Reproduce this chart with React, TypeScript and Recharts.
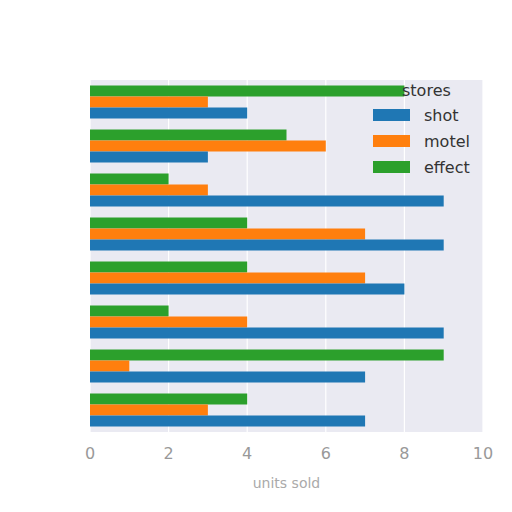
import React from 'react';
import { BarChart, Bar, XAxis, YAxis, CartesianGrid } from 'recharts';

// categories top to bottom (no labels shown on the axis)
const categories = ['c1', 'c2', 'c3', 'c4', 'c5', 'c6', 'c7', 'c8'];
const shot = [4, 3, 9, 9, 8, 9, 7, 7];
const motel = [3, 6, 3, 7, 7, 4, 1, 3];
const effect = [8, 5, 2, 4, 4, 2, 9, 4];
const xTicks = [0, 2, 4, 6, 8, 10];

const series = [
  { key: 'shot', color: '#1f77b4' },
  { key: 'motel', color: '#ff7f0e' },
  { key: 'effect', color: '#2ca02c' },
];

const data = categories.map((c, i) => ({
  name: c,
  shot: shot[i],
  motel: motel[i],
  effect: effect[i],
}));

const font = '"DejaVu Sans", sans-serif';

// legend sits inside the plot, top right, drawn over the bars
const StoresLegend = () => (
  <div style={{ position: 'absolute', left: 365, top: 72, fontFamily: font, color: '#333', fontSize: 16 }}>
    <div style={{ marginLeft: 29, height: 22, lineHeight: '22px' }}>stores</div>
    {series.map((s) => (
      <div key={s.key} style={{ display: 'flex', alignItems: 'center', height: 26 }}>
        <span style={{ width: 37, height: 12, background: s.color, display: 'inline-block' }} />
        <span style={{ marginLeft: 14 }}>{s.key}</span>
      </div>
    ))}
  </div>
);

export default function App() {
  return (
    <div style={{ position: 'relative', width: 500, height: 500, background: '#fff' }}>
      <BarChart
        width={500}
        height={500}
        data={data}
        layout="vertical"
        margin={{ top: 72, right: 25, bottom: 16, left: 82 }}
        barCategoryGap="12.5%"
        barGap={0}
      >
        <CartesianGrid horizontal={false} stroke="#fff" strokeWidth={1.2} fill="#EAEAF2" />
        <XAxis
          type="number"
          domain={[0, 10]}
          ticks={xTicks}
          axisLine={false}
          tickLine={false}
          tickMargin={10}
          height={60}
          tick={{ fill: '#999', fontSize: 16, fontFamily: font }}
          label={{ value: 'units sold', position: 'insideBottom', offset: 4, fill: '#aaa', fontSize: 14, fontFamily: font }}
        />
        <YAxis type="category" dataKey="name" hide />
        <Bar dataKey="effect" fill="#2ca02c" isAnimationActive={false} />
        <Bar dataKey="motel" fill="#ff7f0e" isAnimationActive={false} />
        <Bar dataKey="shot" fill="#1f77b4" isAnimationActive={false} />
      </BarChart>
      <StoresLegend />
    </div>
  );
}
